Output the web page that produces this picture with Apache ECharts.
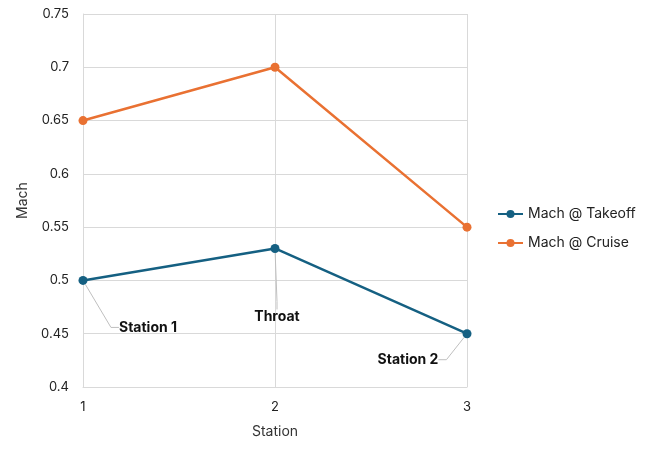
<!DOCTYPE html>
<html>
<head>
<meta charset="utf-8">
<script src="https://cdn.jsdelivr.net/npm/echarts@6/dist/echarts.min.js"></script>
<style>
  html, body { margin: 0; padding: 0; background: #fff; }
  #main { width: 645px; height: 452px; }
</style>
</head>
<body>
<div id="main"></div>
<script>
var stations = [1, 2, 3];
var stationNames = ['Station 1', 'Throat', 'Station 2'];
var machTakeoff = [0.5, 0.53, 0.45];
var machCruise = [0.65, 0.7, 0.55];
var yTicks = [0.4, 0.45, 0.5, 0.55, 0.6, 0.65, 0.7, 0.75];

// label offsets from each point (callouts)
var labelOffsets = [[65, 47], [2, 68], [-59, 26]];

function pairs(xs, ys) {
    var out = [];
    for (var i = 0; i < xs.length; i++) {
        out.push([xs[i], ys[i]]);
    }
    return out;
}

var myChart = echarts.init(document.getElementById('main'));
var font = 'Inter, "Liberation Sans", sans-serif';

option = {
    animation: false,
    textStyle: { fontFamily: font },
    grid: { left: 83, right: 178, top: 14, bottom: 65, outerBoundsMode: 'none', containLabel: false },
    legend: {
        orient: 'vertical',
        left: 497,
        top: 207,
        padding: 0,
        itemWidth: 25,
        itemHeight: 10,
        itemGap: 15,
        textStyle: { fontSize: 14, color: '#222', fontFamily: font },
        data: ['Mach @ Takeoff', 'Mach @ Cruise']
    },
    xAxis: {
        type: 'value',
        min: 1,
        max: 3,
        interval: 1,
        name: 'Station',
        nameLocation: 'middle',
        nameGap: 38,
        nameTextStyle: { fontSize: 14, color: '#333' },
        axisLine: { show: true, lineStyle: { color: '#d9d9d9' } },
        axisTick: { show: false },
        axisLabel: { fontSize: 13, color: '#222', margin: 14 },
        splitLine: { show: true, lineStyle: { color: '#d9d9d9' } }
    },
    yAxis: {
        type: 'value',
        min: yTicks[0],
        max: yTicks[yTicks.length - 1],
        interval: 0.05,
        name: 'Mach',
        nameLocation: 'middle',
        nameGap: 46,
        nameTextStyle: { fontSize: 14, color: '#333' },
        axisLine: { show: true, lineStyle: { color: '#d9d9d9' } },
        axisTick: { show: false },
        axisLabel: {
            fontSize: 13, color: '#222', margin: 14,
            formatter: function (v) { return String(parseFloat(v.toFixed(2))); }
        },
        splitLine: { show: true, lineStyle: { color: '#d9d9d9' } }
    },
    series: [
        {
            name: 'Mach @ Takeoff',
            type: 'line',
            data: pairs(stations, machTakeoff),
            symbol: 'circle',
            symbolSize: 9,
            itemStyle: { color: '#156082' },
            lineStyle: { width: 2.5, color: '#156082' },
            z: 3,
            label: {
                show: true,
                position: 'inside',
                fontSize: 14,
                fontWeight: 'bold',
                color: '#111',
                formatter: function (p) { return stationNames[p.dataIndex]; }
            },
            labelLine: { show: true, length2: 8, lineStyle: { color: '#bfbfbf', width: 1 } },
            labelLayout: function (p) {
                return { dx: labelOffsets[p.dataIndex][0], dy: labelOffsets[p.dataIndex][1] };
            }
        },
        {
            name: 'Mach @ Cruise',
            type: 'line',
            data: pairs(stations, machCruise),
            symbol: 'circle',
            symbolSize: 9,
            itemStyle: { color: '#E97132' },
            lineStyle: { width: 2.5, color: '#E97132' }
        }
    ]
};

myChart.setOption(option);
</script>
</body>
</html>
